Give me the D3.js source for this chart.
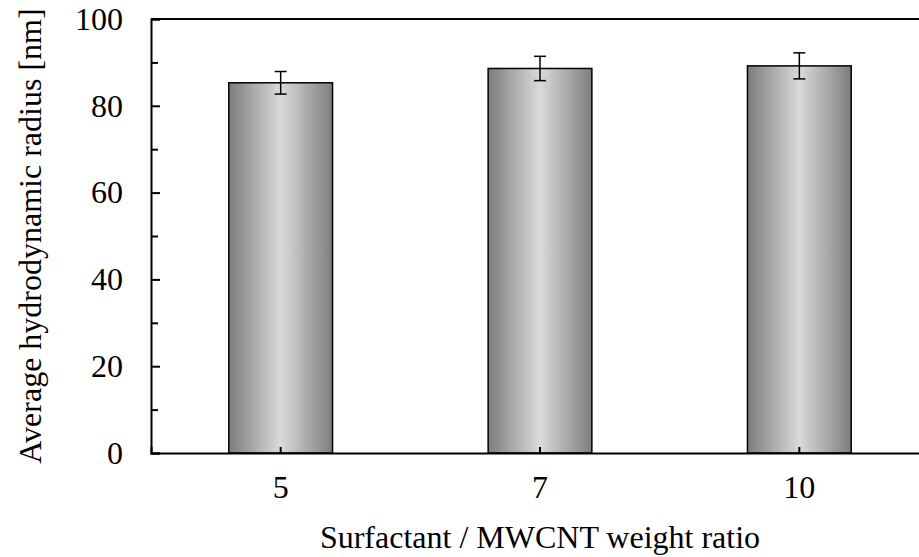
<!DOCTYPE html>
<html>
<head>
<meta charset="utf-8">
<script src="https://cdn.jsdelivr.net/npm/d3@7"></script>
<style>
  body { margin: 0; background: #fff; }
  svg { display: block; }
</style>
</head>
<body>
<div id="chart"></div>
<script>
// data
var categories = ["5", "7", "10"];
var values = [85.3, 88.6, 89.2];
var errors = [2.6, 2.8, 3.0];
var yTicks = [0, 20, 40, 60, 80, 100];
var yMinor = [10, 30, 50, 70, 90];

var FONT = "Liberation Serif";

var W = 919, H = 557;
var margin = {top: 19, right: -10, bottom: 104, left: 151},
    width = W - margin.left - margin.right,
    height = H - margin.top - margin.bottom;

var svg = d3.select("#chart").append("svg")
  .attr("width", W).attr("height", H)
  .attr("font-family", FONT);

var defs = svg.append("defs");
var grad = defs.append("linearGradient").attr("id", "barGrad")
  .attr("x1", "0%").attr("x2", "100%").attr("y1", "0%").attr("y2", "0%");
grad.append("stop").attr("offset", "0%").attr("stop-color", "#7c7c7c");
grad.append("stop").attr("offset", "50%").attr("stop-color", "#dadada");
grad.append("stop").attr("offset", "100%").attr("stop-color", "#7e7e7e");

var g = svg.append("g")
  .attr("transform", "translate(" + margin.left + "," + margin.top + ")");

var x = d3.scaleBand()
  .domain(categories)
  .range([0, width])
  .paddingInner(0.6)
  .paddingOuter(0.3);

var y = d3.scaleLinear()
  .domain([0, 100])
  .range([height, 0]);

// bars
g.selectAll(".bar")
  .data(values)
  .enter()
  .append("rect")
  .attr("class", "bar")
  .attr("x", function(d, i) { return x(categories[i]); })
  .attr("y", function(d) { return y(d); })
  .attr("width", x.bandwidth())
  .attr("height", function(d) { return y(0) - y(d); })
  .attr("fill", "url(#barGrad)")
  .attr("stroke", "#000")
  .attr("stroke-width", 1.5);

// error bars
var cap = 6;
var eb = g.selectAll(".err")
  .data(values)
  .enter()
  .append("g")
  .attr("class", "err")
  .attr("stroke", "#000")
  .attr("stroke-width", 1.5);
eb.append("line")
  .attr("x1", function(d, i) { return x(categories[i]) + x.bandwidth() / 2; })
  .attr("x2", function(d, i) { return x(categories[i]) + x.bandwidth() / 2; })
  .attr("y1", function(d, i) { return y(d - errors[i]); })
  .attr("y2", function(d, i) { return y(d + errors[i]); });
eb.append("line")
  .attr("x1", function(d, i) { return x(categories[i]) + x.bandwidth() / 2 - cap; })
  .attr("x2", function(d, i) { return x(categories[i]) + x.bandwidth() / 2 + cap; })
  .attr("y1", function(d, i) { return y(d + errors[i]); })
  .attr("y2", function(d, i) { return y(d + errors[i]); });
eb.append("line")
  .attr("x1", function(d, i) { return x(categories[i]) + x.bandwidth() / 2 - cap; })
  .attr("x2", function(d, i) { return x(categories[i]) + x.bandwidth() / 2 + cap; })
  .attr("y1", function(d, i) { return y(d - errors[i]); })
  .attr("y2", function(d, i) { return y(d - errors[i]); });

// top frame line
g.append("line")
  .attr("x1", 0).attr("x2", width)
  .attr("y1", 0).attr("y2", 0)
  .attr("stroke", "#000").attr("stroke-width", 2);

// y axis: ticks pointing inward
var yAxis = g.append("g")
  .call(d3.axisLeft(y).tickValues(yTicks).tickSize(-9).tickPadding(28));
g.append("g")
  .call(d3.axisLeft(y).tickValues(yMinor).tickSize(-7).tickFormat(""))
  .select(".domain").remove();

// x axis: small ticks inward at bar centres
var xAxis = g.append("g")
  .attr("transform", "translate(0," + height + ")")
  .call(d3.axisBottom(x).tickSize(-6).tickPadding(22));

[yAxis, xAxis].forEach(function(a) {
  a.attr("font-family", FONT).attr("font-size", 32);
  a.select(".domain").attr("stroke-width", 2);
});
g.selectAll(".tick line").attr("stroke-width", 2);
g.selectAll(".tick text")
  .attr("font-family", FONT)
  .attr("font-size", 32)
  .attr("fill", "#000");
xAxis.selectAll(".tick text").attr("dy", "0.71em");
yAxis.selectAll(".tick text").attr("text-anchor", "end");

// axis titles
svg.append("text")
  .attr("x", 540)
  .attr("y", 548)
  .attr("text-anchor", "middle")
  .attr("font-family", FONT)
  .attr("font-size", 32)
  .text("Surfactant / MWCNT weight ratio");

svg.append("text")
  .attr("transform", "translate(41," + (margin.top + height / 2) + ") rotate(-90)")
  .attr("text-anchor", "middle")
  .attr("font-family", FONT)
  .attr("font-size", 32)
  .text("Average hydrodynamic radius [nm]");
</script>
</body>
</html>
